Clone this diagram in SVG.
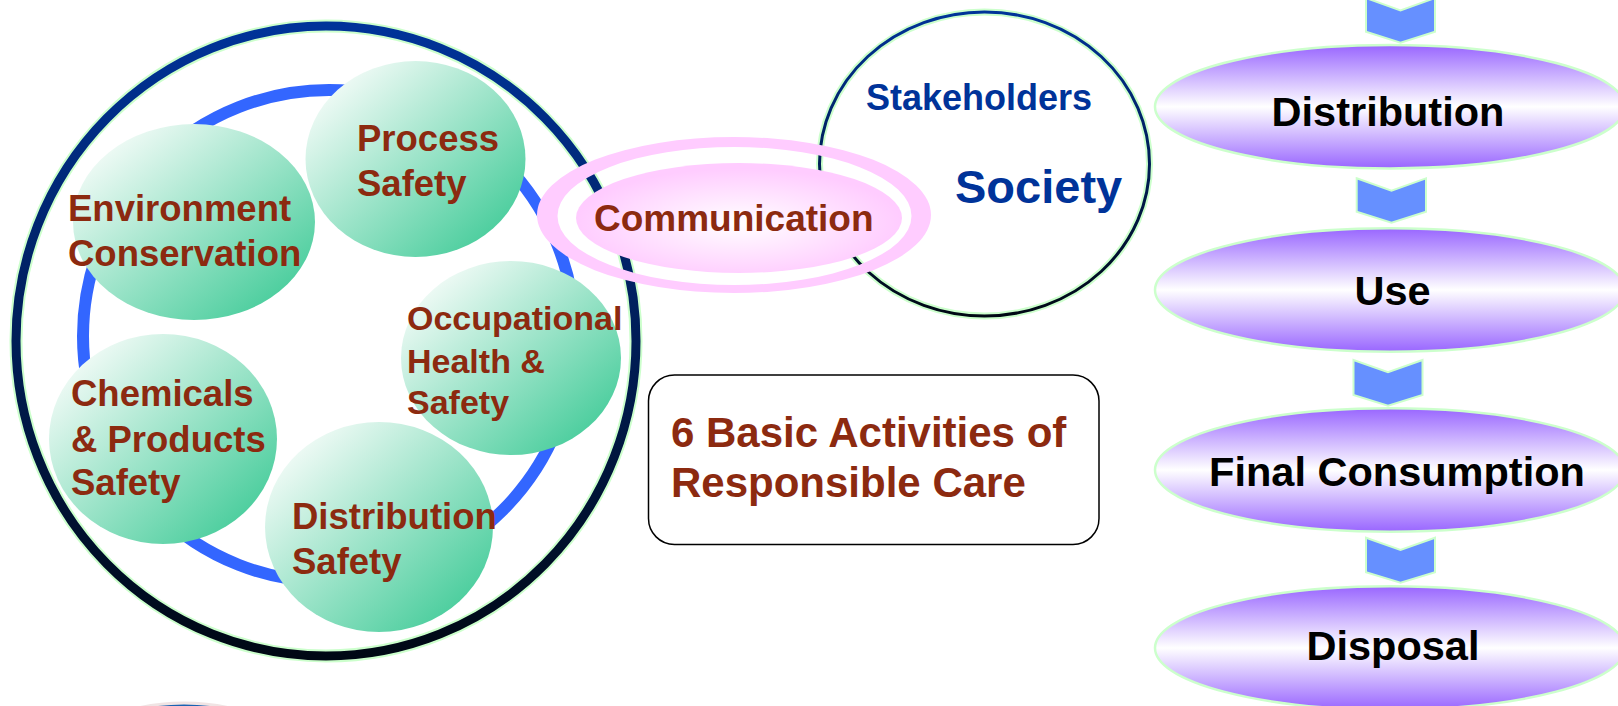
<svg xmlns="http://www.w3.org/2000/svg" width="1618" height="706" viewBox="0 0 1618 706">
<defs>
<linearGradient id="navy" x1="0" y1="0" x2="0" y2="1">
<stop offset="0" stop-color="#003399"/>
<stop offset="1" stop-color="#000814"/>
</linearGradient>
<linearGradient id="green" x1="0.1" y1="0.1" x2="0.9" y2="0.9">
<stop offset="0" stop-color="#f6fcf9"/>
<stop offset="1" stop-color="#45cc9a"/>
</linearGradient>
<linearGradient id="purple" x1="0" y1="0" x2="0" y2="1">
<stop offset="0" stop-color="#9966ff"/>
<stop offset="0.5" stop-color="#ffffff"/>
<stop offset="1" stop-color="#9966ff"/>
</linearGradient>
<radialGradient id="pink" cx="0.5" cy="0.55" r="0.5">
<stop offset="0" stop-color="#ffffff"/>
<stop offset="1" stop-color="#ffccff"/>
</radialGradient>
<style>
.bub{fill:url(#green);}
.rt{font-family:"Liberation Sans",Arial,sans-serif;font-weight:bold;fill:#8c2a10;}
.bt{font-family:"Liberation Sans",Arial,sans-serif;font-weight:bold;fill:#003399;}
.kt{font-family:"Liberation Sans",Arial,sans-serif;font-weight:bold;fill:#000000;font-size:41.5px;text-anchor:middle;}
.stage{fill:url(#purple);stroke:#ccffcc;stroke-width:2.5;}
.chev{fill:#6690ff;stroke:#ccffcc;stroke-width:2;}
</style>
</defs>
<rect width="1618" height="706" fill="#ffffff"/>

<g id="bottom-blob">
<ellipse cx="184" cy="763" rx="112" ry="60" fill="#1a62b2" stroke="#f0e4e4" stroke-width="3"/>
</g>

<g id="rc-circle">
<ellipse cx="326" cy="341" rx="310" ry="315" fill="#ffffff" stroke="#ccffcc" stroke-width="13"/>
<ellipse cx="326" cy="341" rx="310" ry="315" fill="none" stroke="url(#navy)" stroke-width="9"/>
<circle cx="329" cy="336" r="246" fill="none" stroke="#3366ff" stroke-width="12"/>
</g>

<g id="society">
<ellipse cx="984.5" cy="164" rx="165" ry="152" fill="#ffffff" stroke="#ccffcc" stroke-width="7"/>
<ellipse cx="984.5" cy="164" rx="165" ry="152" fill="none" stroke="url(#navy)" stroke-width="3"/>
<text class="bt" x="866" y="110" font-size="36">Stakeholders</text>
<text class="bt" x="955" y="203" font-size="47">Society</text>
</g>

<g id="process-safety">
<ellipse class="bub" cx="415.5" cy="159" rx="110" ry="98"/>
</g>
<g id="environment-conservation">
<ellipse class="bub" cx="194" cy="222" rx="121" ry="98"/>
</g>
<g id="occupational-health-safety">
<ellipse class="bub" cx="511" cy="358" rx="110" ry="97"/>
</g>
<g id="chemicals-products-safety">
<ellipse class="bub" cx="163" cy="439" rx="114" ry="105"/>
</g>
<g id="distribution-safety">
<ellipse class="bub" cx="379" cy="527" rx="114" ry="105"/>
</g>

<g id="labels" class="rt" font-size="36.5">
<text x="357" y="151">Process</text>
<text x="357" y="196">Safety</text>
<text x="68" y="221">Environment</text>
<text x="68" y="266">Conservation</text>
<text x="407" y="330" font-size="34">Occupational</text>
<text x="407" y="373" font-size="34">Health &amp;</text>
<text x="407" y="414" font-size="34">Safety</text>
<text x="71" y="406">Chemicals</text>
<text x="71" y="452">&amp; Products</text>
<text x="71" y="495">Safety</text>
<text x="292" y="529">Distribution</text>
<text x="292" y="574">Safety</text>
</g>

<g id="communication">
<path fill="#ffccff" fill-rule="evenodd" d="M537,215 a197,78 0 1,0 394,0 a197,78 0 1,0 -394,0 Z M557.5,216 a177,69 0 1,0 354,0 a177,69 0 1,0 -354,0 Z"/>
<ellipse cx="739" cy="218" rx="163" ry="55" fill="url(#pink)"/>
<text class="rt" x="594" y="231" font-size="37">Communication</text>
</g>

<g id="title-box">
<rect x="648.5" y="375" width="450.5" height="169.5" rx="26" ry="26" fill="#ffffff" stroke="#000000" stroke-width="1.5"/>
<text class="rt" x="671" y="447" font-size="42">6 Basic Activities of</text>
<text class="rt" x="671" y="497" font-size="42">Responsible Care</text>
</g>

<g id="stage-distribution">
<ellipse class="stage" cx="1390" cy="106.7" rx="235" ry="61.7"/>
<text class="kt" x="1388" y="126">Distribution</text>
</g>
<g id="stage-use">
<ellipse class="stage" cx="1390" cy="290" rx="235" ry="61.7"/>
<text class="kt" x="1392.5" y="305">Use</text>
</g>
<g id="stage-final-consumption">
<ellipse class="stage" cx="1390" cy="470" rx="235" ry="61.7"/>
<text class="kt" x="1397" y="486">Final Consumption</text>
</g>
<g id="stage-disposal">
<ellipse class="stage" cx="1390" cy="648" rx="235" ry="61.7"/>
<text class="kt" x="1393" y="660">Disposal</text>
</g>

<g id="connectors">
<polygon class="chev" points="1366,-2 1400.5,10.5 1435,-2 1435,31.7 1400.5,42.7 1366,31.7"/>
<polygon class="chev" points="1356.7,178.3 1391.5,190.7 1426,178.3 1426,211.7 1391.5,222.7 1356.7,211.7"/>
<polygon class="chev" points="1353.5,360 1388,372.3 1422.5,360 1422.5,395 1388,405.7 1353.5,395"/>
<polygon class="chev" points="1366,537.7 1400.5,550 1435,537.7 1435,572.3 1400.5,582.7 1366,572.3"/>
</g>
</svg>
